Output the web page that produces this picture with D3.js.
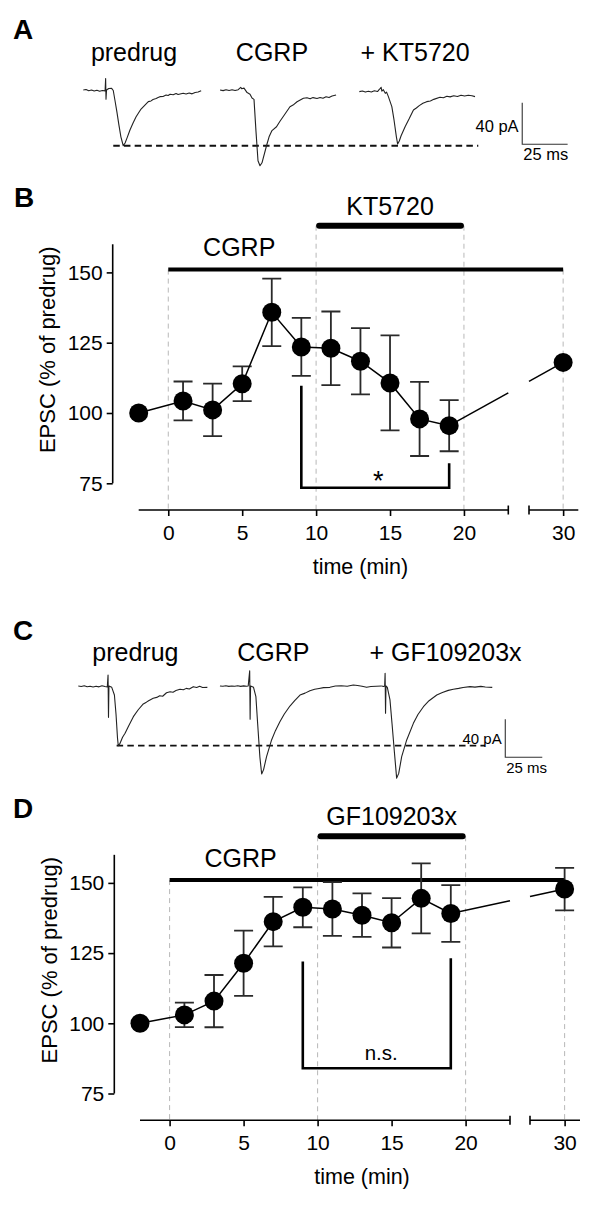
<!DOCTYPE html>
<html><head><meta charset="utf-8">
<script src="https://cdn.jsdelivr.net/npm/d3@7"></script>
<style>
body{margin:0;background:#fff}
svg{display:block}
text{font-family:"Liberation Sans",Arial,sans-serif;fill:#000}
</style>
</head><body>
<svg id="chart" width="600" height="1212"></svg>
<script>
// ================= DATA =================
// Time-course (panels B and D)
const times = [-2, 1, 3, 5, 7, 9, 11, 13, 15, 17, 19, 30];
const meanB = [100, 104.3, 101.1, 110.4, 135.8, 123.5, 123.0, 118.4, 110.7, 97.9, 95.5, 118.0];
const semB  = [0, 6.9, 9.35, 6.2, 12.0, 10.3, 13.1, 11.8, 16.9, 13.2, 9.1, 0];
const meanD = [100, 103.0, 107.9, 121.4, 136.2, 141.3, 140.7, 138.5, 135.8, 144.5, 139.1, 147.8];
const semD  = [0, 4.35, 9.3, 11.6, 8.8, 7.1, 9.6, 7.75, 8.8, 12.45, 10.1, 7.55];
const yTicks = [75, 100, 125, 150];
const xTicks = [0, 5, 10, 15, 20, 30];
const gridTimes = [0, 10, 20, 30];
const cgrpPeriod = [0, 30];
const drugPeriod = [10, 20];
const axisBreak = [23, 27.75];       // x-axis break (min)
const xExtent = [-2, 31];
const drugLabelB = "KT5720";
const drugLabelD = "GF109203x";
const bracketB = {t: [9, 19], top: [109.7, 82.1], bottom: 73.4, label: "*", labelT: 14.2, labelV: 72.7};
const bracketD = {t: [9, 19], top: [122.0, 123.2], bottom: 84.0, label: "n.s.", labelT: 14.3, labelV: 87.0};

// Example EPSC traces: [ms, pA] per trace
const traceA_predrug = [[0,0],[1.5,0.5],[3,-0.7],[4.5,0],[6,-1],[7.5,-0.3],[9,-1.2],[10.5,-0.5],[12,-0.8],[12.3,11],[12.5,-8.8],[12.8,0],[14,1.5],[15.6,1.6],[16.5,-0.5],[17.4,-9.6],[18.5,-21],[19.6,-33.6],[20.7,-45],[22.0,-53.6],[23.0,-51],[24.1,-46],[25.7,-38.5],[27.4,-31.7],[29.0,-26],[30.3,-22.4],[31.8,-18.3],[33.4,-15.4],[35.8,-11.2],[37.3,-10.5],[38.4,-9.1],[40.1,-8.2],[41.2,-7.2],[42.2,-6.4],[43.9,-6.2],[45.6,-4.8],[46.7,-5.3],[47.8,-4.1],[49.5,-4.6],[51.1,-3.4],[52.2,-4.3],[53.3,-3.8],[55.0,-3.1],[56.6,-3.8],[58.3,-2.9],[59.9,-3.7],[61.6,-2.4],[63.2,-2.0],[64.9,-0.7]];
const traceA_cgrp = [[0,0],[1.7,-0.6],[3.3,0.3],[5,-0.4],[6.6,0.2],[8.3,-0.5],[10,0.3],[11.4,2.6],[11.9,1.2],[13.2,1.8],[14.9,-2.5],[16.5,-4.0],[17.6,-7.7],[18.7,-9],[19.8,-40],[20.9,-68],[22.0,-72.8],[23.1,-70],[25.7,-52.9],[27.0,-45],[28.6,-39],[31.1,-35.3],[33.0,-30],[35.2,-24.5],[38.5,-16.1],[40.2,-14.5],[42.4,-11.3],[45.9,-8.0],[47.9,-7.5],[49.6,-8.5],[51.2,-7.3],[53.4,-8.2],[55.1,-7.2],[56.7,-8.0],[58.4,-6.5],[60.0,-7.3],[61.7,-5.8],[63.9,-4.8]];
const traceA_kt = [[0,-1.6],[1.7,-1.0],[3.3,-2.0],[5.0,-1.2],[6.6,-1.9],[8.3,-0.8],[10.0,-1.5],[11.0,0.5],[12.0,2.6],[12.4,-1.2],[13.2,0.3],[14.3,-3.2],[15.0,-2.0],[16.0,-6.4],[17.9,-16],[19.1,-28.8],[20.4,-45],[21.1,-52],[22.0,-49],[23.0,-44],[25.2,-35.3],[27.5,-27.5],[29.8,-19.2],[31.4,-17.3],[33.0,-15.0],[35.0,-12.7],[37.1,-11.2],[39.1,-10.5],[41.0,-9.0],[44.4,-7.0],[46.3,-7.4],[48.2,-6.0],[50.0,-6.6],[52.0,-5.5],[54.0,-6.2],[56.0,-5.0],[58.0,-5.8],[60.0,-5.0],[62.0,-5.6],[63.7,-6.4]];
const traceC_predrug = [[0,0],[2,-0.5],[4,0.3],[6,-0.8],[8,-0.2],[10,-1.0],[12,-0.3],[14,-0.9],[16,0.2],[18,-0.6],[19.6,-1.0],[20.1,11.6],[20.4,-33],[20.7,0],[22.6,-1.4],[24.4,-9.5],[25.5,-30],[26.5,-55],[27.0,-62.8],[28.0,-61],[29.9,-54],[31.6,-49.8],[34.0,-42],[37.2,-32.3],[40.5,-25],[43.9,-18.9],[46.0,-17],[47.5,-15.5],[50.6,-12.9],[53,-12],[55,-10.3],[57,-10.8],[59.6,-7.1],[62,-6.0],[64,-6.5],[66,-4.8],[68.7,-3.5],[71,-4.0],[73,-2.5],[75,-3.2],[77.7,-0.7],[80,-1.5],[82,-0.3],[84,-1.5],[87.2,-1.4]];
const traceC_cgrp = [[0,0],[2,-0.3],[4,0.2],[6,-0.4],[8,0],[10,-0.3],[12,0.2],[14,-0.4],[16,0.1],[18,-0.3],[19.1,0],[20.1,16],[20.4,-35],[20.7,0],[22.7,-1.4],[24.3,-11.3],[25.5,-40],[27.0,-75],[28.2,-92.6],[29.5,-88],[31.5,-74.4],[34.9,-56.8],[37.5,-47],[40.5,-37.6],[43.5,-29.5],[47.3,-21.1],[50.5,-15.5],[54.1,-9.5],[57.5,-7.5],[60.8,-5.0],[64,-3.5],[67,-2.6],[70,-1.7],[74.3,-1.4],[78,0],[82,0.3],[86,-0.2],[90.1,1.1],[93,0.5],[96,-0.3],[99.1,-1.4],[102,-0.5],[109.3,0]];
const traceC_gf = [[0,0],[1.2,-0.5],[2.0,0],[2.3,13.4],[2.6,-28.7],[2.9,0],[3.8,-1.4],[5.6,-14.7],[7.0,-40],[8.6,-70],[10.1,-97],[11.5,-92],[13.5,-74.4],[16.9,-56.8],[21.4,-39.3],[24.5,-30],[28.2,-21.8],[32,-15.5],[37.2,-9.5],[41,-6.8],[45,-4.6],[48.4,-3.5],[52,-2.5],[55,-1.5],[59.7,-0.7],[63,-1.2],[67,-0.4],[70,-1.0],[74.7,-1.4]];
const traceLabelsA = ["predrug", "CGRP", "+ KT5720"];
const traceLabelsC = ["predrug", "CGRP", "+ GF109203x"];
const traceOffsetsA = [0, 75.3, 152.0];   // ms
const traceOffsetsC = [0, 95.7, 205.0];   // ms
const scaleBarPA = 40, scaleBarMs = 25;

// ================= DRAW =================
const svg = d3.select("#chart");
const FONT = '"Liberation Sans", Arial, sans-serif';

function panelLetter(letter, x, y) {
  svg.append("text").attr("x", x).attr("y", y).attr("font-size", 28)
    .attr("font-weight", "bold").text(letter);
}

function tracePanel(cfg) {
  const g = svg.append("g");
  const x = d3.scaleLinear().domain([0, 100]).range([cfg.x0, cfg.x0 + 100 * cfg.pxPerMs]);
  const y = d3.scaleLinear().domain([0, 100]).range([cfg.y0, cfg.y0 - 100 * cfg.pxPerPa]);
  // dashed peak line
  g.append("line").attr("x1", x(cfg.dash[0])).attr("x2", x(cfg.dash[1]))
    .attr("y1", y(cfg.dashLevel)).attr("y2", y(cfg.dashLevel))
    .attr("stroke", "#111").attr("stroke-width", 1.8).attr("stroke-dasharray", "6.5,4.2");
  const line = d3.line().x(d => x(d[0])).y(d => y(d[1]));
  cfg.traces.forEach((tr, i) => {
    const off = cfg.offsets[i];
    g.append("path").datum(tr.map(d => [d[0] + off, d[1]])).attr("d", line)
      .attr("fill", "none").attr("stroke", "#222").attr("stroke-width", 1.1)
      .attr("stroke-linejoin", "round");
    g.append("text").attr("x", x(cfg.labelMs[i])).attr("y", y(cfg.labelPa))
      .attr("text-anchor", "middle").attr("font-size", 25).text(cfg.labels[i]);
  });
  // scale bar
  const sb = cfg.scaleBar;
  g.append("path")
    .attr("d", `M${x(sb.ms)},${y(sb.pa + scaleBarPA)}V${y(sb.pa)}H${x(sb.ms + scaleBarMs)}`)
    .attr("fill", "none").attr("stroke", "#333").attr("stroke-width", 1.1);
  g.append("text").attr("x", x(sb.ms) - 3.6).attr("y", y(sb.paLabelPa))
    .attr("text-anchor", "end").attr("font-size", cfg.sbFont).text(scaleBarPA + " pA");
  g.append("text").attr("x", x(sb.ms) + 1).attr("y", y(sb.msLabelPa))
    .attr("font-size", cfg.sbFont).text(scaleBarMs + " ms");
}

function timecourse(cfg) {
  const g = svg.append("g");
  const x = d3.scaleLinear()
    .domain([xExtent[0], axisBreak[0], axisBreak[1], xExtent[1]])
    .range(cfg.xRange);
  const y = d3.scaleLinear().domain([75, 150]).range(cfg.yRange);
  const cgrpLevel = 151, drugLevel = 166.6, axisLevel = 65.5;

  // dashed grid lines
  gridTimes.forEach(t => {
    const top = (t >= drugPeriod[0] && t <= drugPeriod[1]) ? drugLevel : cgrpLevel;
    g.append("line").attr("x1", x(t)).attr("x2", x(t))
      .attr("y1", y(top)).attr("y2", y(axisLevel))
      .attr("stroke", "#b8b8b8").attr("stroke-width", 1).attr("stroke-dasharray", "5,4");
  });

  // treatment bars
  g.append("line").attr("x1", x(cgrpPeriod[0])).attr("x2", x(cgrpPeriod[1]))
    .attr("y1", y(cgrpLevel)).attr("y2", y(cgrpLevel))
    .attr("stroke", "#000").attr("stroke-width", 4);
  g.append("rect").attr("x", x(drugPeriod[0])).attr("width", x(drugPeriod[1]) - x(drugPeriod[0]))
    .attr("y", y(drugLevel) - 3).attr("height", 6).attr("rx", 3).attr("fill", "#000");
  g.append("text").attr("x", x(4.8)).attr("y", y(155.7)).attr("text-anchor", "middle")
    .attr("font-size", 25).text("CGRP");
  g.append("text").attr("x", x(15)).attr("y", y(170.5)).attr("text-anchor", "middle")
    .attr("font-size", 25).text(cfg.drugLabel);

  // y axis
  const ya = g.append("g").attr("transform", `translate(${cfg.yAxisX},0)`)
    .call(d3.axisLeft(y).tickValues(yTicks).tickSize(6).tickPadding(4));
  ya.select(".domain").remove();
  ya.selectAll("line").attr("stroke", "#000").attr("stroke-width", 1.6);
  ya.selectAll("text").attr("font-size", 21).attr("font-family", FONT).attr("fill", "#000");
  g.append("line").attr("x1", cfg.yAxisX).attr("x2", cfg.yAxisX)
    .attr("y1", y(160)).attr("y2", y(75)).attr("stroke", "#000").attr("stroke-width", 1.6);
  g.append("text")
    .attr("transform", `translate(${cfg.yAxisX - 57.5},${(y(75) + y(160)) / 2 - 14}) rotate(-90)`)
    .attr("text-anchor", "middle").attr("font-size", 22).text("EPSC (% of predrug)");

  // x axis with break
  const ay = y(axisLevel);
  const xa = g.append("g").attr("transform", `translate(0,${ay})`)
    .call(d3.axisBottom(x).tickValues(xTicks).tickSize(6).tickPadding(9).tickFormat(d3.format("d")));
  xa.select(".domain").remove();
  xa.selectAll("line").attr("stroke", "#000").attr("stroke-width", 1.6);
  xa.selectAll("text").attr("font-size", 21).attr("font-family", FONT).attr("fill", "#000");
  [[xExtent[0], axisBreak[0]], [axisBreak[1], xExtent[1]]].forEach(seg => {
    g.append("line").attr("x1", x(seg[0])).attr("x2", x(seg[1])).attr("y1", ay).attr("y2", ay)
      .attr("stroke", "#000").attr("stroke-width", 1.6);
  });
  axisBreak.forEach(t => {
    g.append("line").attr("x1", x(t)).attr("x2", x(t)).attr("y1", ay - 4.5).attr("y2", ay + 4.5)
      .attr("stroke", "#000").attr("stroke-width", 1.6);
  });
  g.append("text").attr("x", x(13)).attr("y", ay + 64).attr("text-anchor", "middle")
    .attr("font-size", 21.5).text("time (min)");

  // data
  const pts = times.map((t, i) => ({t, m: cfg.mean[i], s: cfg.sem[i]}));
  // error bars
  pts.filter(d => d.s > 0).forEach(d => {
    const cx = x(d.t);
    g.append("path")
      .attr("d", `M${cx},${y(d.m - d.s)}V${y(d.m + d.s)}M${cx - 9.5},${y(d.m + d.s)}H${cx + 9.5}M${cx - 9.5},${y(d.m - d.s)}H${cx + 9.5}`)
      .attr("fill", "none").attr("stroke", "#2a2a2a").attr("stroke-width", 1.8);
  });
  // connecting line (broken at axis break)
  const before = pts.filter(d => d.t < axisBreak[0]);
  const after = pts.filter(d => d.t > axisBreak[1]);
  g.append("path").datum(before)
    .attr("d", d3.line().x(d => x(d.t)).y(d => y(d.m)))
    .attr("fill", "none").attr("stroke", "#000").attr("stroke-width", 1.5);
  const p0 = before[before.length - 1], p1 = after[0];
  const X0 = x(p0.t), Y0 = y(p0.m), X1 = x(p1.t), Y1 = y(p1.m);
  const yAt = px => Y0 + (px - X0) / (X1 - X0) * (Y1 - Y0);
  const xb0 = x(axisBreak[0]), xb1 = x(axisBreak[1]);
  g.append("line").attr("x1", X0).attr("y1", Y0).attr("x2", xb0).attr("y2", yAt(xb0))
    .attr("stroke", "#000").attr("stroke-width", 1.5);
  g.append("line").attr("x1", xb1).attr("y1", yAt(xb1)).attr("x2", X1).attr("y2", Y1)
    .attr("stroke", "#000").attr("stroke-width", 1.5);
  // points
  g.selectAll("circle.pt").data(pts).enter().append("circle")
    .attr("cx", d => x(d.t)).attr("cy", d => y(d.m)).attr("r", 9.5).attr("fill", "#000");

  // significance bracket
  const b = cfg.bracket;
  g.append("path")
    .attr("d", `M${x(b.t[0])},${y(b.top[0])}V${y(b.bottom)}H${x(b.t[1])}V${y(b.top[1])}`)
    .attr("fill", "none").attr("stroke", "#000").attr("stroke-width", 2.6);
  g.append("text").attr("x", x(b.labelT)).attr("y", y(b.labelV)).attr("text-anchor", "middle")
    .attr("font-size", b.label === "*" ? 27 : 20.5).text(b.label);
}

// Panel A
panelLetter("A", 13, 39);
tracePanel({
  x0: 83.3, pxPerMs: 1.816, y0: 90, pxPerPa: 1.04,
  traces: [traceA_predrug, traceA_cgrp, traceA_kt], offsets: traceOffsetsA,
  labels: traceLabelsA, labelMs: [27.9, 103.9, 182.7], labelPa: 27.9,
  dash: [16.5, 217.5], dashLevel: -53.6,
  scaleBar: {ms: 241.7, pa: -52.2, paLabelPa: -40.1, msLabelPa: -67.3}, sbFont: 16.5
});

// Panel B
panelLetter("B", 14, 207);
timecourse({
  xRange: [138.7, 508.3, 529, 578.3], yRange: [483.3, 272.4], yAxisX: 112.7,
  mean: meanB, sem: semB, drugLabel: drugLabelB, bracket: bracketB
});

// Panel C
panelLetter("C", 13, 639.5);
tracePanel({
  x0: 78.3, pxPerMs: 1.48, y0: 686, pxPerPa: 0.95,
  traces: [traceC_predrug, traceC_cgrp, traceC_gf], offsets: traceOffsetsC,
  labels: traceLabelsC, labelMs: [38.6, 131.8, 248.1], labelPa: 26.3,
  dash: [25.9, 274.8], dashLevel: -62.8,
  scaleBar: {ms: 288.5, pa: -75, paLabelPa: -61.4, msLabelPa: -91.3}, sbFont: 15
});

// Panel D
panelLetter("D", 13, 818);
timecourse({
  xRange: [140, 510, 530, 580], yRange: [1093.5, 882.9], yAxisX: 114.3,
  mean: meanD, sem: semD, drugLabel: drugLabelD, bracket: bracketD
});
</script>
</body></html>
